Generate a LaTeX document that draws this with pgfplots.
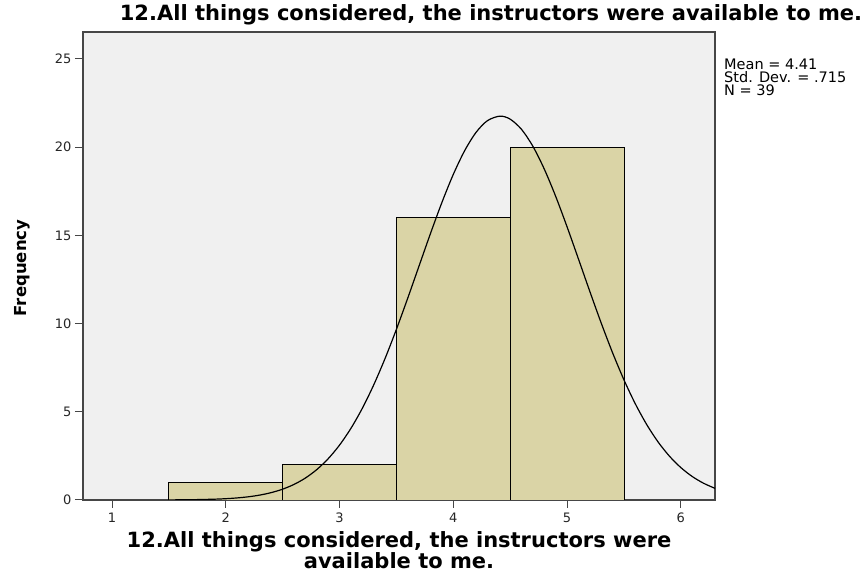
\documentclass[border=0pt]{standalone}
\usepackage{fontspec}
\setmainfont{DejaVu Sans}
\usepackage{pgfplots}
\pgfplotsset{compat=1.18}

\definecolor{barfill}{RGB}{218,212,166}
\definecolor{plotbg}{RGB}{240,240,240}
\definecolor{axgray}{RGB}{70,70,70}

\begin{document}
\begin{tikzpicture}
\useasboundingbox (0,0) rectangle (868pt,573pt);
\begin{axis}[
  at={(83pt,73pt)}, anchor=south west,
  scale only axis, width=632pt, height=468pt,
  xmin=0.745, xmax=6.3, ymin=0, ymax=26.53,
  xtick={1,2,3,4,5,6}, ytick={0,5,10,15,20,25},
  xtick pos=bottom, ytick pos=left,
  tick align=outside, major tick length=8pt,
  tick style={axgray, line width=1pt},
  axis line style={axgray, line width=1.3pt},
  axis background/.style={fill=plotbg},
  tick label style={font=\fontsize{13}{13}\selectfont, text=black!85},
  /pgf/number format/assume math mode=true,
  xticklabel style={yshift=-1pt},
  clip=true]
\addplot[ybar interval, fill=barfill, draw=black, line width=0.9pt]
  coordinates {(1.5,1)(2.5,2)(3.5,16)(4.5,20)(5.5,20)};
\addplot[black, line width=1.2pt, smooth, no marks] coordinates {
(1.5,0.006)(1.7,0.017)(1.9,0.046)(2.0,0.074)(2.1,0.118)(2.2,0.183)(2.3,0.280)
(2.4,0.419)(2.5,0.614)(2.6,0.884)(2.7,1.246)(2.8,1.725)(2.9,2.340)(3.0,3.113)
(3.1,4.062)(3.2,5.197)(3.3,6.521)(3.4,8.023)(3.5,9.681)(3.6,11.455)(3.7,13.291)
(3.8,15.122)(3.9,16.873)(4.0,18.461)(4.1,19.808)(4.2,20.842)(4.3,21.504)
(4.41,21.760)(4.5,21.588)(4.6,21.005)(4.7,20.042)(4.8,18.752)(4.9,17.207)
(5.0,15.481)(5.1,13.659)(5.2,11.819)(5.3,10.028)(5.4,8.343)(5.5,6.807)
(5.6,5.447)(5.7,4.274)(5.8,3.288)(5.9,2.481)(6.0,1.836)(6.1,1.332)(6.2,0.948)
(6.3,0.661)};
\end{axis}
\node[font=\bfseries\fontsize{21}{22}\selectfont] at (491pt,558pt)
  {12.All things considered, the instructors were available to me.};
\node[font=\bfseries\fontsize{21}{19.5}\selectfont, align=center] at (399pt,23pt)
  {12.All things considered, the instructors were\\available to me.};
\node[font=\bfseries\fontsize{16.5}{18}\selectfont, rotate=90] at (22pt,305pt) {Frequency};
\node[font=\fontsize{14.5}{12.8}\selectfont, anchor=north west, inner sep=0pt, align=left]
  at (724pt,514pt) {Mean = 4.41\\Std. Dev. = .715\\N = 39};
\end{tikzpicture}
\end{document}
